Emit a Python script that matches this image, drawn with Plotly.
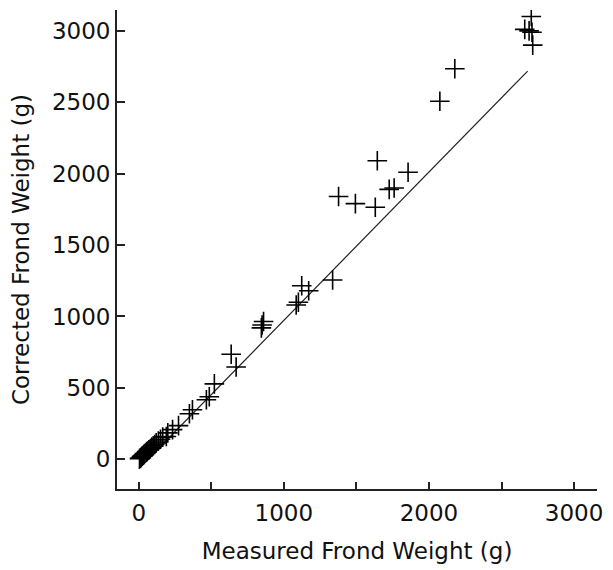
import plotly.graph_objects as go

# Measured vs corrected frond weight (g)
measured = [5, 10, 15, 20, 25, 30, 35, 40, 50, 55, 60, 70, 80, 90, 100, 110, 120,
            135, 150, 165, 190, 200, 233, 274, 349, 370, 466, 486, 521, 637, 671,
            845, 850, 860, 1085, 1100, 1123, 1171, 1336, 1377, 1493, 1630, 1644,
            1726, 1760, 1856, 2075, 2178, 2660, 2690, 2705, 2710, 2715]
corrected = [5, 8, 12, 20, 22, 28, 33, 40, 48, 52, 58, 66, 75, 85, 95, 104, 115,
             128, 140, 155, 160, 185, 208, 236, 319, 347, 417, 438, 528, 736, 646,
             920, 940, 965, 1080, 1100, 1215, 1180, 1255, 1840, 1790, 1765, 2090,
             1890, 1900, 2010, 2507, 2735, 3010, 3000, 3100, 2990, 2900]

# Fitted line end points
fit_x = [0, 2680]
fit_y = [-66, 2718]

x_ticks = [0, 500, 1000, 1500, 2000, 2500, 3000]
x_tick_text = ["0", "", "1000", "", "2000", "", "3000"]
y_ticks = [0, 500, 1000, 1500, 2000, 2500, 3000]
y_tick_text = ["0", "500", "1000", "1500", "2000", "2500", "3000"]

FONT = "DejaVu Sans"
FS = 23

fig = go.Figure()
fig.add_trace(go.Scatter(x=fit_x, y=fit_y, mode="lines",
                         line=dict(color="#222", width=1.2), showlegend=False))
fig.add_trace(go.Scatter(x=measured, y=corrected, mode="markers",
                         marker=dict(symbol="cross-thin", size=14,
                                     line=dict(color="black", width=1.6)),
                         showlegend=False))

fig.update_layout(
    width=613, height=570,
    margin=dict(l=117, r=13, t=10, b=77),
    paper_bgcolor="white", plot_bgcolor="white",
    font=dict(family=FONT, size=FS, color="#111"),
)
fig.update_xaxes(
    range=[-150, 3158], tickvals=x_ticks, ticktext=x_tick_text,
    ticks="inside", ticklen=7, tickwidth=1.5, tickcolor="#222",
    showline=True, linecolor="#222", linewidth=1.8, showgrid=False, zeroline=False,
    tickfont=dict(family=FONT, size=FS),
    ticklabelstandoff=2,
    title=dict(text="Measured Frond Weight (g)", font=dict(family=FONT, size=FS), standoff=18),
)
fig.update_yaxes(
    range=[-208, 3146], tickvals=y_ticks, ticktext=y_tick_text,
    ticks="inside", ticklen=8, tickwidth=1.5, tickcolor="#222",
    showline=True, linecolor="#222", linewidth=1.8, showgrid=False, zeroline=False,
    tickfont=dict(family=FONT, size=FS),
    ticklabelstandoff=0,
    title=dict(text="Corrected Frond Weight (g)", font=dict(family=FONT, size=FS), standoff=16),
)

fig.write_html("out.html")
